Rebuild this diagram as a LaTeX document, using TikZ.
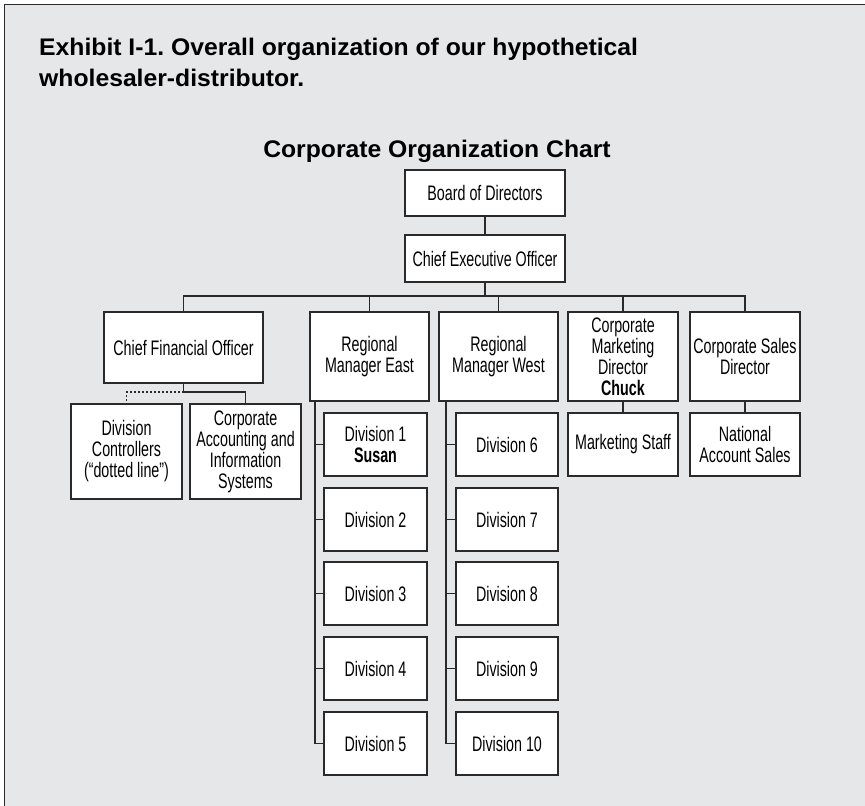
\documentclass[tikz,border=0pt]{standalone}
\usepackage{fontspec}
\setmainfont{Liberation Sans}
\newfontfamily\narrowfont[FakeStretch=0.68]{Liberation Sans}
\newfontfamily\headfont[FakeStretch=1.03]{Liberation Sans}
\usepackage{xcolor}
\definecolor{panel}{HTML}{E6E7E8}
\definecolor{ink}{HTML}{2A2A2A}
\frenchspacing
\tikzset{box/.style={draw=ink,line width=1.6pt,fill=white,align=center,inner sep=1pt,
   font=\narrowfont\fontsize{21}{21}\selectfont},
 topbox/.style={box,minimum width=160,minimum height=46},
 headbox/.style={box,minimum width=110,minimum height=89},
 divbox/.style={box,minimum width=103,minimum height=63},
 link/.style={draw=ink,line width=1.4pt},
 dotlink/.style={draw=ink,line width=1.2pt,dash pattern=on 2pt off 2pt},
 headline/.style={font=\headfont\bfseries\fontsize{24}{31}\selectfont},
 }

\begin{document}
\begin{tikzpicture}[x=1pt,y=1pt]
        \useasboundingbox (0,0) rectangle (865,-806);
        \fill[white] (0,0) rectangle (865,-806);
        \fill[panel] (4.5,-4.5) rectangle (865,-806);
        \draw[ink,line width=1.6pt] (865,-4.5) -- (4.5,-4.5) -- (4.5,-806);

        \node[headline,anchor=north west,align=left,inner sep=0pt] (exhibit) at (39,-37.5)
            {Exhibit I-1. Overall organization of our hypothetical\\wholesaler-distributor.};
        \node[headline,anchor=base] (charttitle) at (437,-157) {Corporate Organization Chart};

        \node[topbox] (board) at (485,-193) {Board of Directors};
        \node[topbox,minimum height=47] (ceo) at (485,-258.5) {Chief Executive Officer};

        \node[headbox,minimum width=159,minimum height=71] (cfo) at (183.5,-347.5) {Chief Financial Officer};
        \node[headbox,minimum width=119] (rme) at (369.5,-356.5) {Regional\\Manager East};
        \node[headbox,minimum width=119] (rmw) at (498.5,-356.5) {Regional\\Manager West};
        \node[headbox] (cmd) at (623,-356.5) {Corporate\\Marketing\\Director\\\textbf{Chuck}};
        \node[headbox] (csd) at (745,-356.5) {Corporate Sales\\Director};

        \node[box,minimum width=111,minimum height=95] (dc) at (126.5,-451.5) {Division\\Controllers\\(“dotted line”)};
        \node[box,minimum width=111,minimum height=95] (cais) at (245.5,-451.5) {Corporate\\Accounting and\\Information\\Systems};
        \node[divbox,minimum width=110] (mstaff) at (623,-444.5) {Marketing Staff};
        \node[divbox,minimum width=110] (nas) at (745,-444.5) {National\\Account Sales};

        \node[divbox] (div1) at (375.5,-444.5) {Division 1\\\textbf{Susan}};
        \node[divbox] (div2) at (375.5,-519.5) {Division 2};
        \node[divbox] (div3) at (375.5,-593.5) {Division 3};
        \node[divbox] (div4) at (375.5,-668.5) {Division 4};
        \node[divbox] (div5) at (375.5,-743.5) {Division 5};
        \node[divbox,minimum width=102] (div6) at (507,-444.5) {Division 6};
        \node[divbox,minimum width=102] (div7) at (507,-519.5) {Division 7};
        \node[divbox,minimum width=102] (div8) at (507,-593.5) {Division 8};
        \node[divbox,minimum width=102] (div9) at (507,-668.5) {Division 9};
        \node[divbox,minimum width=102] (div10) at (507,-743.5) {Division 10};

        % reporting lines
        \coordinate (bar) at (0,-296);
        \coordinate (cfobar) at (0,-392);
        \coordinate (eastspine) at (315,0);
        \coordinate (westspine) at (446,0);
        \draw[link] (board) -- (ceo);
        \draw[link] (ceo.south) -- (ceo.south |- bar);
        \draw[link] (cfo.north) |- (bar -| csd.north) -- (csd.north);
        \draw[link] (rme.north) -- (rme.north |- bar);
        \draw[link] (rmw.north) -- (rmw.north |- bar);
        \draw[link] (cmd.north) -- (cmd.north |- bar);
        \draw[link] (cfo.south) |- (cfobar -| cais.north) -- (cais.north);
        \draw[dotlink] (cfo.south |- cfobar) -| (dc.north);
        \draw[link] (cmd) -- (mstaff);
        \draw[link] (csd) -- (nas);
        \draw[link] (rme.south -| eastspine) |- (div5.west);
        \draw[link] (rmw.south -| westspine) |- (div10.west);
        \foreach \d in {div1,div2,div3,div4}
            \draw[link] (\d.west) -- (\d.west -| eastspine);
        \foreach \d in {div6,div7,div8,div9}
            \draw[link] (\d.west) -- (\d.west -| westspine);
    \end{tikzpicture}
\end{document}
